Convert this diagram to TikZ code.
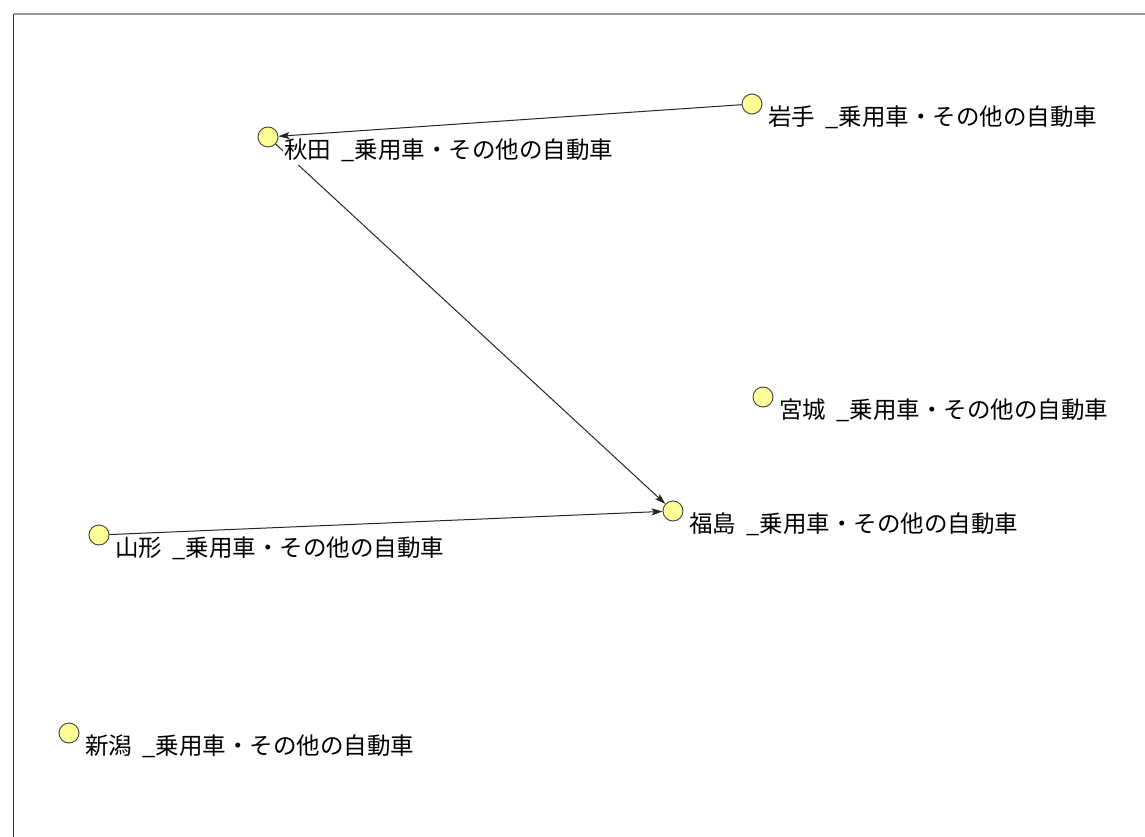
\documentclass[tikz,border=0pt]{standalone}
\usepackage{fontspec}
\newfontfamily\jpfont{Noto Sans CJK JP}
\usetikzlibrary{arrows.meta}
\definecolor{nodey}{RGB}{255,255,150}
\newcommand\jus{\makebox[1em][r]{\_}}
\begin{document}
\begin{tikzpicture}[x=1pt,y=-1pt,
  vert/.style={circle,draw=black!70,line width=1pt,fill=nodey,minimum size=20pt,inner sep=0pt},
  lab/.style={anchor=west,font=\jpfont\fontsize{23.5pt}{26pt}\selectfont,inner xsep=1pt,inner ysep=0pt,
    fill=white,text height=20.7pt,text depth=5.9pt},
  link/.style={draw=black!85,line width=1pt,-{Stealth[length=11pt,width=7pt,inset=2.5pt]}},
  frametop/.style={draw=black!40,line width=1.6pt},
  frameleft/.style={draw=black!80,line width=1.4pt}]
\useasboundingbox (0,0) rectangle (1145,837);
\coordinate (c0) at (13.5,14);
\coordinate (c1) at (1145,14);
\coordinate (c2) at (13.5,837);
\draw[frametop] (c0) -- (c1);
\draw[frameleft] (c0) -- (c2);

\node[vert] (iwate) at (752,104) {};
\node[vert] (akita) at (268,137) {};
\node[vert] (miyagi) at (763,397) {};
\node[vert] (fukushima) at (673,511) {};
\node[vert] (yamagata) at (99,535) {};
\node[vert] (niigata) at (69,733) {};

\draw[link] (akita) -- (fukushima);

\node[lab] (iwateL) at ([shift={(15,14.5)}]iwate.center) {岩手\jus 乗用車・その他の自動車};
\node[lab] (akitaL) at ([shift={(15,14.5)}]akita.center) {秋田\jus 乗用車・その他の自動車};
\node[lab] (miyagiL) at ([shift={(15,14.5)}]miyagi.center) {宮城\jus 乗用車・その他の自動車};
\node[lab] (fukushimaL) at ([shift={(15,14.5)}]fukushima.center) {福島\jus 乗用車・その他の自動車};
\node[lab] (yamagataL) at ([shift={(15,14.5)}]yamagata.center) {山形\jus 乗用車・その他の自動車};
\node[lab] (niigataL) at ([shift={(15,14.5)}]niigata.center) {新潟\jus 乗用車・その他の自動車};

\draw[link] (iwate) -- (akita);
\draw[link] (yamagata) -- (fukushima);
\end{tikzpicture}
\end{document}
